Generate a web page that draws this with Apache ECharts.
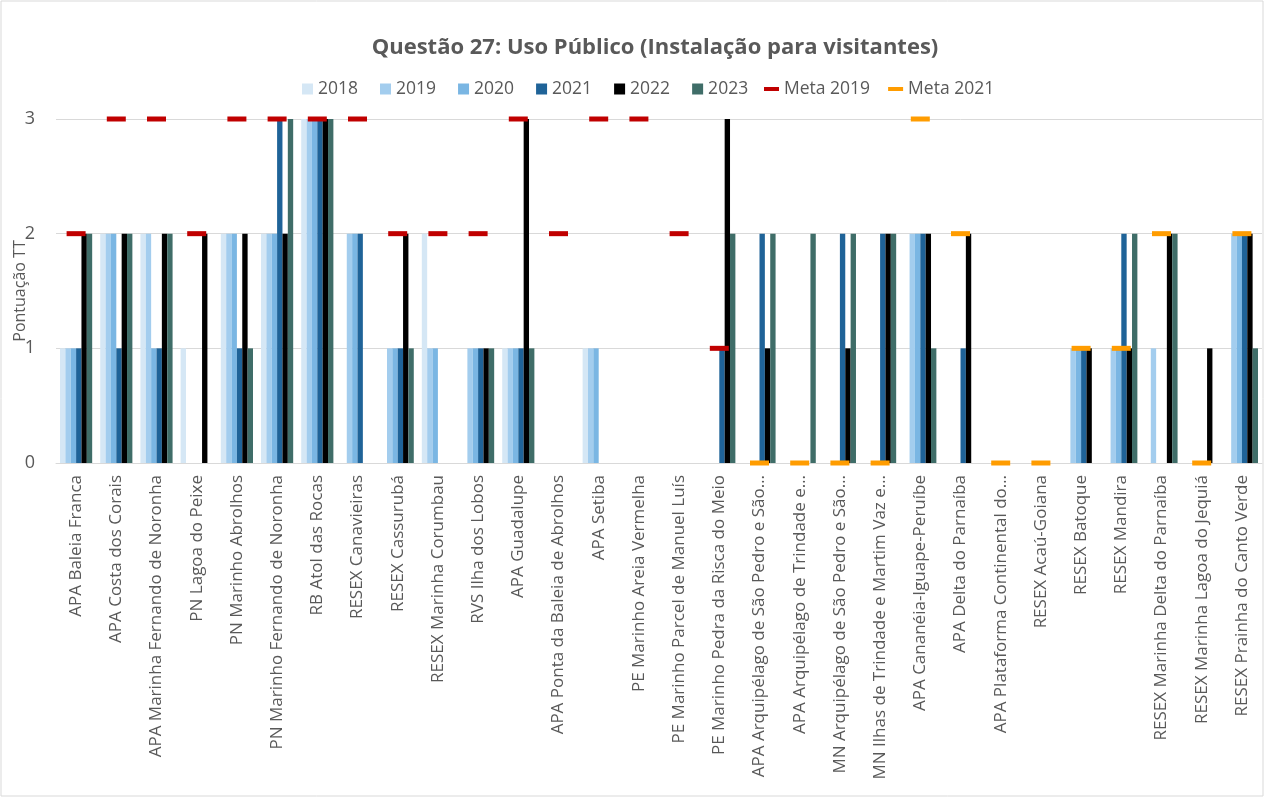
<!DOCTYPE html>
<html>
<head>
<meta charset="utf-8">
<title>Questão 27: Uso Público</title>
<script src="https://cdn.jsdelivr.net/npm/echarts@6/dist/echarts.min.js"></script>
<style>
  html, body { margin: 0; padding: 0; background: #fff; }
  #main { width: 1265px; height: 798px; }
</style>
</head>
<body>
<div id="main"></div>
<script>
// unidades de conservação (rótulos como aparecem no gráfico)
const categorias = [
  'APA Baleia Franca', 'APA Costa dos Corais', 'APA Marinha Fernando de Noronha',
  'PN Lagoa do Peixe', 'PN Marinho Abrolhos', 'PN Marinho Fernando de Noronha',
  'RB Atol das Rocas', 'RESEX Canavieiras', 'RESEX Cassurubá', 'RESEX Marinha Corumbau',
  'RVS Ilha dos Lobos', 'APA Guadalupe', 'APA Ponta da Baleia de Abrolhos', 'APA Setiba',
  'PE Marinho Areia Vermelha', 'PE Marinho Parcel de Manuel Luís',
  'PE Marinho Pedra da Risca do Meio', 'APA Arquipélago de São Pedro e São…',
  'APA Arquipélago de Trindade e…', 'MN Arquipélago de São Pedro e São…',
  'MN Ilhas de Trindade e Martim Vaz e…', 'APA Cananéia-Iguape-Peruíbe',
  'APA Delta do Parnaíba', 'APA Plataforma Continental do…', 'RESEX Acaú-Goiana',
  'RESEX Batoque', 'RESEX Mandira', 'RESEX Marinha Delta do Parnaíba',
  'RESEX Marinha Lagoa do Jequiá', 'RESEX Prainha do Canto Verde'
];
const anos = ['2018', '2019', '2020', '2021', '2022', '2023'];
const cores = ['#d5e7f5', '#a3cdee', '#7ab6e3', '#1f6398', '#000000', '#3f6d68'];

const v2018 = [1,2,2,1,2,2,3,0,0,2,0,1,0,1,0,0,0,0,0,0,0,0,0,0,0,0,0,0,0,0];
const v2019 = [1,2,2,0,2,2,3,2,1,1,1,1,0,1,0,0,0,0,0,0,0,2,0,0,0,1,1,1,0,2];
const v2020 = [1,2,1,0,2,2,3,2,1,1,1,1,0,1,0,0,0,0,0,0,0,2,0,0,0,1,1,0,0,2];
const v2021 = [1,1,1,0,1,3,3,2,1,0,1,1,0,0,0,0,1,2,0,2,2,2,1,0,0,1,2,0,0,2];
const v2022 = [2,2,2,2,2,2,3,0,2,0,1,3,0,0,0,0,3,1,0,1,2,2,2,0,0,1,1,2,1,2];
const v2023 = [2,2,2,0,1,3,3,0,1,0,1,1,0,0,0,0,2,2,2,2,2,1,0,0,0,0,2,2,0,1];

const n = null;
const meta2019 = [2,3,3,2,3,3,3,3,2,2,2,3,2,3,3,2,1,n,n,n,n,n,n,n,n,n,n,n,n,n];
const meta2021 = [n,n,n,n,n,n,n,n,n,n,n,n,n,n,n,n,n,0,0,0,0,3,2,0,0,1,1,2,0,2];

const ticksY = [0, 1, 2, 3];

const fonte = "'Open Sans', 'Noto Sans', sans-serif";
const cinza = '#595959';

const chart = echarts.init(document.getElementById('main'));

const valores = [v2018, v2019, v2020, v2021, v2022, v2023];
const barras = anos.map((ano, i) => ({
  name: ano,
  type: 'bar',
  barGap: '0%',
  barCategoryGap: '20%',
  itemStyle: { color: cores[i] },
  data: valores[i]
}));

// metas: só o traço curto, sem linha
const metaSerie = (nome, dados, cor) => ({
  name: nome,
  type: 'line',
  data: dados,
  symbol: 'rect',
  symbolSize: [19, 5],
  showAllSymbol: true,
  clip: false,
  z: 5,
  itemStyle: { color: cor },
  lineStyle: { width: 0, opacity: 0 }
});

const options = {
  animation: false,
  textStyle: { fontFamily: fonte },
  title: {
    text: 'Questão 27: Uso Público (Instalação para visitantes)',
    left: 650,
    textAlign: 'center',
    top: 32,
    textStyle: { fontSize: 22, fontWeight: 'bold', color: cinza, fontFamily: fonte }
  },
  legend: [
    {
      data: anos,
      left: 302,
      top: 80,
      padding: 0,
      itemWidth: 11,
      itemHeight: 11,
      itemGap: 22,
      icon: 'rect',
      textStyle: { fontSize: 17.5, color: cinza, fontFamily: fonte }
    },
    {
      data: ['Meta 2019', 'Meta 2021'],
      left: 764,
      top: 80,
      padding: 0,
      itemWidth: 15,
      itemHeight: 4,
      itemGap: 18,
      icon: 'rect',
      textStyle: { fontSize: 17.5, color: cinza, fontFamily: fonte }
    }
  ],
  grid: { left: 56, right: 3, top: 119, bottom: 335, outerBoundsMode: 'none' },
  xAxis: {
    type: 'category',
    data: categorias,
    axisTick: { show: false },
    axisLine: { lineStyle: { color: '#d9d9d9' } },
    axisLabel: {
      interval: 0,
      rotate: 90,
      margin: 12,
      fontSize: 17,
      color: cinza,
      fontFamily: fonte
    }
  },
  yAxis: {
    type: 'value',
    min: ticksY[0],
    max: ticksY[ticksY.length - 1],
    interval: 1,
    name: 'Pontuação TT',
    nameLocation: 'middle',
    nameGap: 28,
    nameMoveOverlap: false,
    nameTextStyle: { fontSize: 16, color: cinza, fontFamily: fonte },
    axisLine: { show: false },
    axisTick: { show: false },
    axisLabel: { fontSize: 18, color: cinza, margin: 21, fontFamily: fonte },
    splitLine: { lineStyle: { color: '#d9d9d9' } }
  },
  graphic: [{
    type: 'rect',
    shape: { x: 1, y: 1, width: 1262, height: 795 },
    style: { fill: 'none', stroke: '#d9d9d9', lineWidth: 1 },
    silent: true
  }],
  series: [
    ...barras,
    metaSerie('Meta 2019', meta2019, '#c00000'),
    metaSerie('Meta 2021', meta2021, '#ff9c00')
  ]
};

chart.setOption(options);
</script>
</body>
</html>
